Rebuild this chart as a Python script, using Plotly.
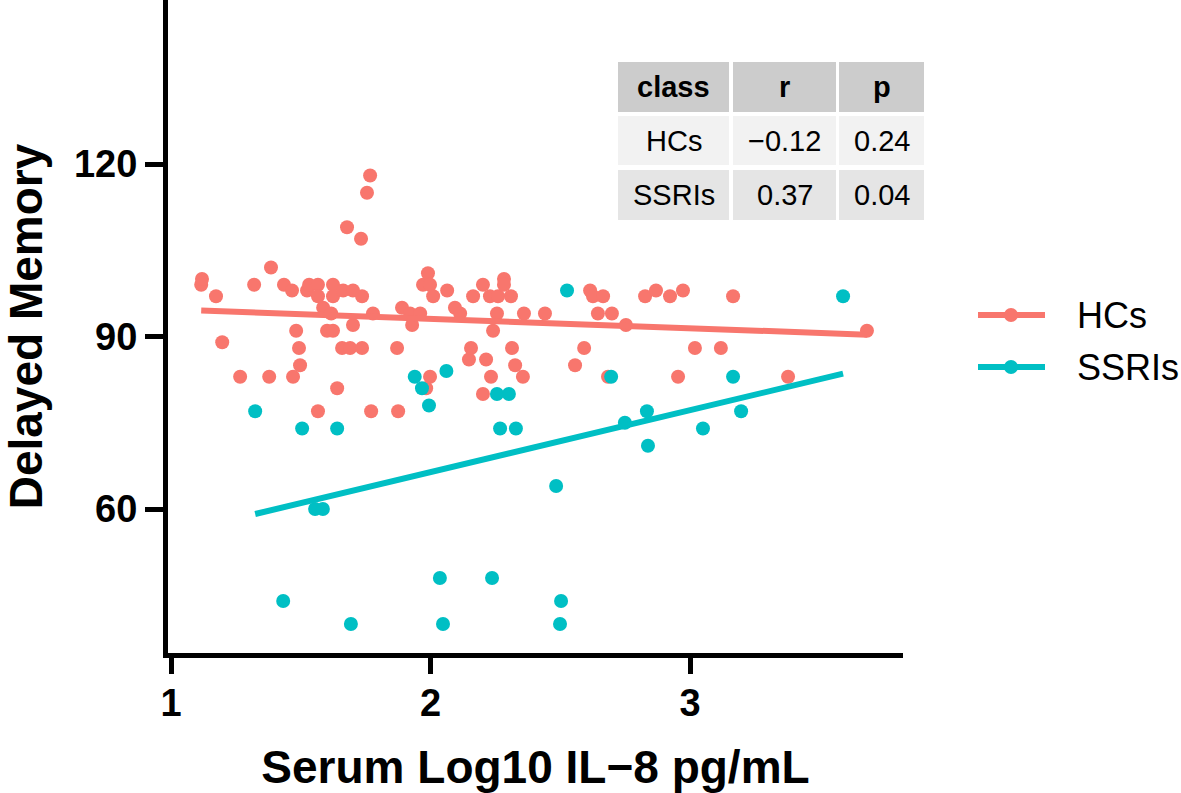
import numpy as np
import plotly.graph_objects as go

# ---------------- data ----------------
classes = ["HCs", "SSRIs"]
colors = {"HCs": "#F8766D", "SSRIs": "#00BFC4"}

hc_x = [1.116, 1.119, 1.173, 1.197, 1.266, 1.320, 1.378, 1.385, 1.435, 1.466,
        1.470, 1.482, 1.493, 1.497, 1.524, 1.532, 1.566, 1.566, 1.566, 1.586,
        1.601, 1.617, 1.624, 1.624, 1.624, 1.640, 1.659, 1.663, 1.678, 1.690,
        1.701, 1.701, 1.732, 1.736, 1.736, 1.755, 1.767, 1.771, 1.778, 1.871,
        1.875, 1.890, 1.921, 1.929, 1.960, 1.971, 1.990, 1.998, 2.010, 1.983,
        1.998, 2.064, 2.094, 2.114, 2.148, 2.156, 2.164, 2.202, 2.202, 2.214,
        2.229, 2.233, 2.241, 2.256, 2.260, 2.283, 2.283, 2.310, 2.314, 2.326,
        2.356, 2.360, 2.441, 2.557, 2.592, 2.615, 2.626, 2.645, 2.665, 2.684,
        2.699, 2.753, 2.827, 2.869, 2.923, 2.954, 2.973, 3.019, 3.119, 3.166,
        3.378, 3.682]
hc_y = [99, 100, 97, 89, 83, 99, 83, 102, 99, 98,
        83, 91, 88, 85, 98, 99, 99, 97, 77, 95,
        91, 94, 99, 97, 91, 81, 88, 98, 109, 88,
        98, 92, 107, 97, 88, 115, 118, 77, 94, 88,
        77, 95, 94, 92, 94, 99, 101, 99, 97, 81,
        83, 98, 95, 94, 86, 88, 97, 99, 80, 86,
        97, 83, 91, 94, 97, 100, 99, 97, 88, 85,
        83, 94, 94, 85, 88, 98, 97, 94, 97, 83,
        94, 92, 97, 98, 97, 83, 98, 88, 88, 97,
        83, 91]

ssri_x = [1.324, 1.432, 1.505, 1.555, 1.585, 1.640, 1.693, 1.939, 1.967, 1.994,
          2.061, 2.036, 2.048, 2.237, 2.256, 2.302, 2.268, 2.329, 2.484, 2.503,
          2.499, 2.526, 2.696, 2.749, 2.834, 2.838, 3.050, 3.166, 3.197, 3.590]
ssri_y = [77, 44, 74, 60, 60, 74, 40, 83, 81, 78,
          84, 48, 40, 48, 80, 80, 74, 74, 64, 44,
          40, 98, 83, 75, 77, 71, 74, 83, 77, 97]

table_r = ["\u22120.12", "0.37"]
table_p = ["0.24", "0.04"]
table_header = ["class", "r", "p"]

x_title = "Serum Log10 IL\u22128 pg/mL"
y_title = "Delayed Memory"
x_ticks = [1, 2, 3]
y_ticks = [60, 90, 120]

series = {"HCs": (hc_x, hc_y), "SSRIs": (ssri_x, ssri_y)}

# ---------------- layout geometry (pixels) ----------------
W, H = 1181, 793
L, R, T, B = 168, 903, 0, 653   # plot area edges in px
FONT = "Liberation Sans, Arial, Helvetica, sans-serif"


def px2paper(px, py):
    return (px - L) / (R - L), (B - py) / (B - T)


fig = go.Figure()

for c in classes:
    xs, ys = series[c]
    fig.add_trace(go.Scatter(x=xs, y=ys, mode="markers",
                             marker=dict(color=colors[c], size=14, line=dict(width=0)),
                             showlegend=False, name=c))
for c in classes:
    xs, ys = series[c]
    xa = np.array(xs)
    slope, icpt = np.polyfit(xa, np.array(ys, dtype=float), 1)
    xl = np.array([xa.min(), xa.max()])
    fig.add_trace(go.Scatter(x=xl, y=slope * xl + icpt, mode="lines",
                             line=dict(color=colors[c], width=6),
                             showlegend=False, name=c + " fit"))

shapes = []
annotations = []

# ---------------- table (tableGrob style) ----------------
col_edges = [(618, 729), (733, 836), (839, 924)]
row_edges = [(62, 112), (116, 165), (170, 220)]
row_fill = ["#CCCCCC", "#F2F2F2", "#E5E5E5"]
rows = [table_header] + [[classes[i], table_r[i], table_p[i]] for i in range(len(classes))]
for ri, (y0, y1) in enumerate(row_edges):
    for ci, (x0, x1) in enumerate(col_edges):
        px0, py0 = px2paper(x0, y1)
        px1, py1 = px2paper(x1, y0)
        shapes.append(dict(type="rect", xref="paper", yref="paper",
                           x0=px0, x1=px1, y0=py0, y1=py1,
                           fillcolor=row_fill[ri], line=dict(width=0), layer="above"))
        cx, cy = px2paper((x0 + x1) / 2, (y0 + y1) / 2)
        txt = rows[ri][ci]
        annotations.append(dict(xref="paper", yref="paper", x=cx, y=cy,
                                text=("<b>%s</b>" % txt) if ri == 0 else txt,
                                showarrow=False, xanchor="center", yanchor="middle",
                                font=dict(family=FONT, size=29, color="black")))

# ---------------- legend (manual, ggplot style) ----------------
leg_y = [315, 367]
for i, c in enumerate(classes):
    lx0, ly = px2paper(978, leg_y[i])
    lx1, _ = px2paper(1045, leg_y[i])
    shapes.append(dict(type="line", xref="paper", yref="paper",
                       x0=lx0, x1=lx1, y0=ly, y1=ly,
                       line=dict(color=colors[c], width=6)))
    cx0, cy0 = px2paper(1004, leg_y[i] + 7)
    cx1, cy1 = px2paper(1018, leg_y[i] - 7)
    shapes.append(dict(type="circle", xref="paper", yref="paper",
                       x0=cx0, x1=cx1, y0=cy0, y1=cy1,
                       fillcolor=colors[c], line=dict(width=0)))
    tx, ty = px2paper(1075, leg_y[i])
    annotations.append(dict(xref="paper", yref="paper", x=tx, y=ty, text=c,
                            showarrow=False, xanchor="left", yanchor="middle",
                            font=dict(family=FONT, size=36, color="black")))

fig.update_layout(
    width=W, height=H,
    margin=dict(l=L, r=W - R, t=T, b=H - B, pad=0),
    paper_bgcolor="white", plot_bgcolor="white",
    showlegend=False,
    shapes=shapes, annotations=annotations,
    font=dict(family=FONT, color="black"),
)
fig.update_xaxes(
    range=[0.988, 3.821], tickvals=x_ticks, ticktext=[str(v) for v in x_ticks],
    showgrid=False, zeroline=False, showline=True, linecolor="black", linewidth=5,
    ticks="outside", ticklen=16, tickwidth=5, tickcolor="black", ticklabelstandoff=-4,
    tickfont=dict(family=FONT, size=38, color="black", weight="bold"),
    title=dict(text="<b>%s</b>" % x_title, font=dict(family=FONT, size=46, color="black"),
               standoff=30),
)
fig.update_yaxes(
    range=[34.96, 148.52], tickvals=y_ticks, ticktext=[str(v) for v in y_ticks],
    showgrid=False, zeroline=False, showline=True, linecolor="black", linewidth=5,
    ticks="outside", ticklen=18, tickwidth=5, tickcolor="black",
    tickfont=dict(family=FONT, size=38, color="black", weight="bold"),
    title=dict(text="<b>%s</b>" % y_title, font=dict(family=FONT, size=46, color="black"),
               standoff=28),
)

fig.write_html("out.html", config={"displayModeBar": False})

# remove the browser's default body margin so the figure sits at the page origin
with open("out.html", "r", encoding="utf-8") as f:
    html = f.read()
html = html.replace("<head>", "<head><style>html,body{margin:0;padding:0;overflow:hidden;}</style>", 1)
with open("out.html", "w", encoding="utf-8") as f:
    f.write(html)
